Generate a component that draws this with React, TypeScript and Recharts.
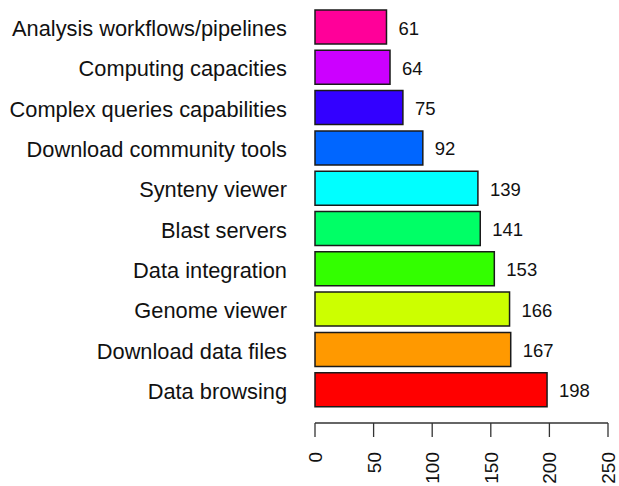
import { BarChart, Bar, XAxis, YAxis, Cell, LabelList } from 'recharts';

const categories = [
  'Analysis workflows/pipelines',
  'Computing capacities',
  'Complex queries capabilities',
  'Download community tools',
  'Synteny viewer',
  'Blast servers',
  'Data integration',
  'Genome viewer',
  'Download data files',
  'Data browsing',
];
const counts = [61, 64, 75, 92, 139, 141, 153, 166, 167, 198];
// R rainbow(10), reversed so red sits at the bottom
const colors = [
  '#FF0099', '#CC00FF', '#3300FF', '#0066FF', '#00FFFF',
  '#00FF66', '#33FF00', '#CCFF00', '#FF9900', '#FF0000',
];
const xTicks = [0, 50, 100, 150, 200, 250];

const data = categories.map((name, i) => ({ name, value: counts[i] }));

const FONT = '"Liberation Sans", Arial, sans-serif';

function CategoryTick({ x, y, payload }: any) {
  return (
    <text x={x - 20} y={y} dy={9} textAnchor="end" fontSize={21.8} fontFamily={FONT} fill="#111">
      {payload.value}
    </text>
  );
}

function ValueTick({ x, y, payload }: any) {
  return (
    <text
      x={x}
      y={y + 13}
      dy={7}
      textAnchor="end"
      fontSize={19}
      fontFamily={FONT}
      fill="#111"
      transform={`rotate(-90 ${x} ${y + 13})`}
    >
      {payload.value}
    </text>
  );
}

export default function App() {
  return (
    <div style={{ position: 'absolute', left: 0, top: 0, width: 619, height: 486, background: '#fff' }}>
      <BarChart
        width={619}
        height={486}
        data={data}
        layout="vertical"
        margin={{ top: 7, right: 11, bottom: 0, left: 0 }}
        accessibilityLayer={false}
      >
        <XAxis
          type="number"
          domain={[0, 250]}
          ticks={xTicks}
          interval={0}
          height={63}
          tickSize={14}
          stroke="#333"
          axisLine={{ stroke: '#333', strokeWidth: 1.3 }}
          tickLine={{ stroke: '#333', strokeWidth: 1.3 }}
          tick={<ValueTick />}
        />
        <YAxis
          type="category"
          dataKey="name"
          width={315}
          axisLine={false}
          tickLine={false}
          interval={0}
          padding={{ top: 0, bottom: 13 }}
          tick={<CategoryTick />}
        />
        <Bar dataKey="value" barSize={34} stroke="#1a1a1a" strokeWidth={1.5} isAnimationActive={false}>
          {data.map((d, i) => (
            <Cell key={d.name} fill={colors[i]} />
          ))}
          <LabelList
            dataKey="value"
            position="right"
            offset={12}
            fontSize={18.5}
            fontFamily={FONT}
            fill="#111"
            dy={1}
          />
        </Bar>
      </BarChart>
    </div>
  );
}
